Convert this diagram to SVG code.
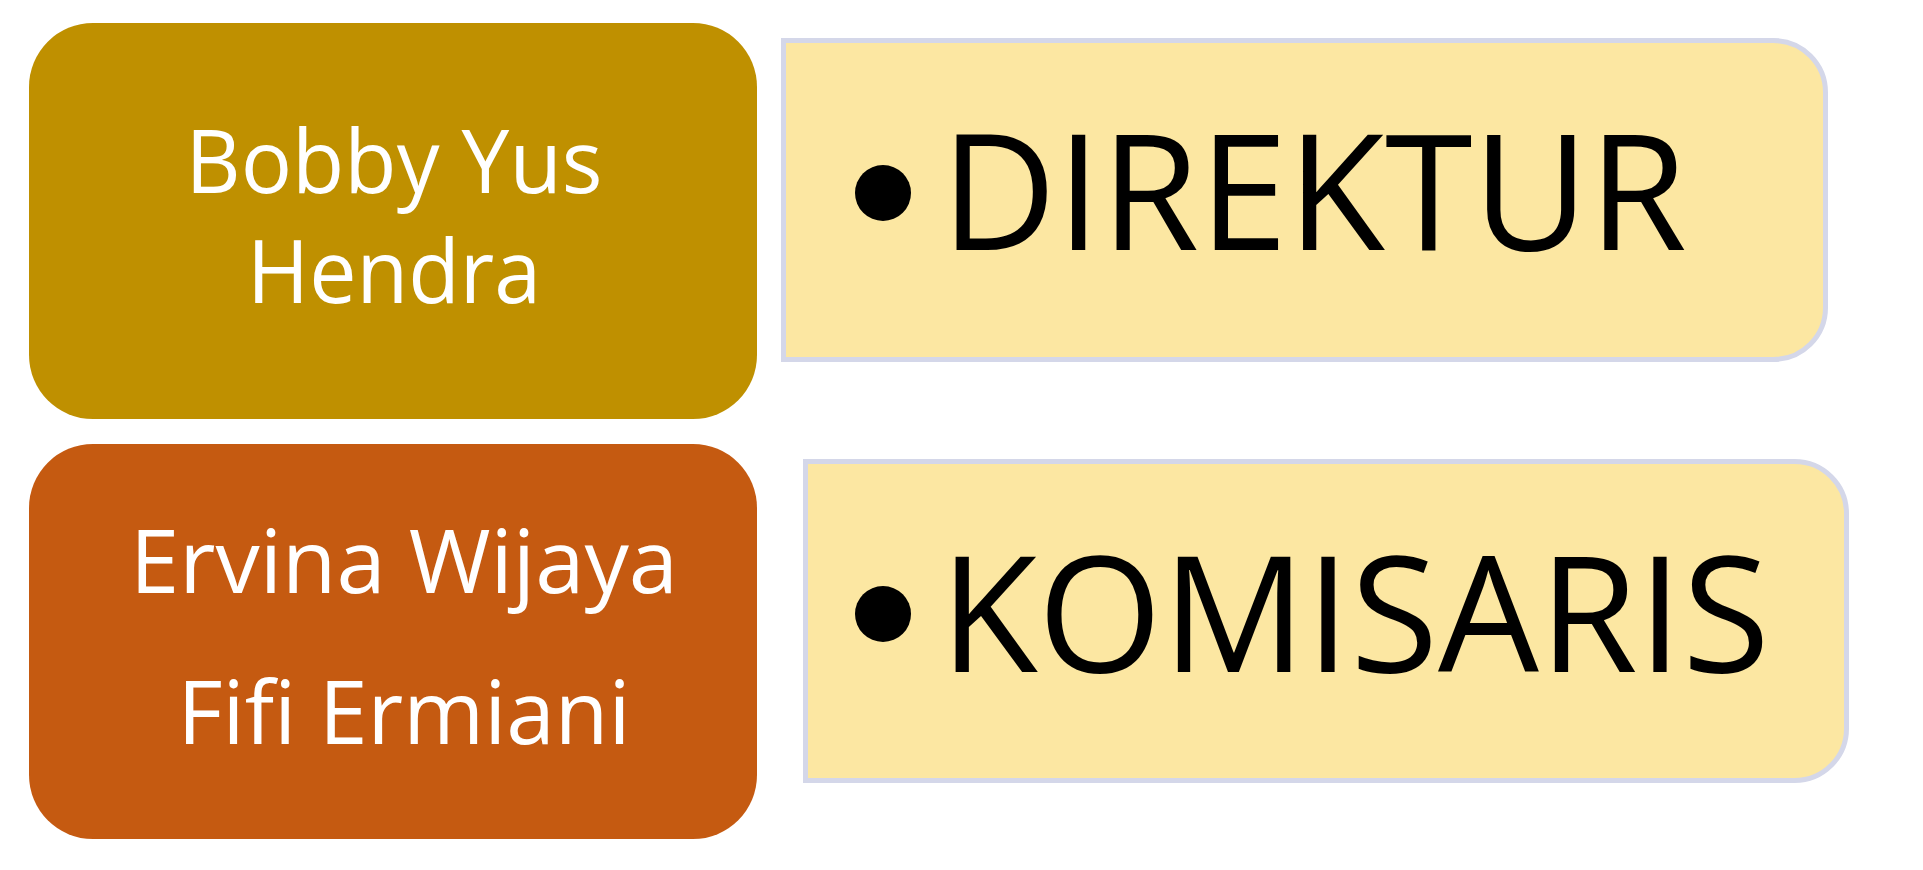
<svg xmlns="http://www.w3.org/2000/svg" width="1923" height="870" viewBox="0 0 1923 870">
<style>
.name{font-family:"Open Sans","Liberation Sans",sans-serif;font-size:88px;fill:#FFFFFF;text-anchor:middle}
.title{font-family:"Open Sans","Liberation Sans",sans-serif;font-size:161px;fill:#000000}
.panel{fill:#FCE7A2;stroke:#D4D7E9;stroke-width:5}
.bullet{fill:#000000}
</style>
<rect width="1923" height="870" fill="#FFFFFF"/>
<g id="node-direktur-names">
<rect x="29" y="23" width="728" height="396" rx="64" ry="64" fill="#BF9000"/>
<text class="name" x="394" y="193" textLength="417" lengthAdjust="spacingAndGlyphs">Bobby Yus</text>
<text class="name" x="394" y="303" textLength="294" lengthAdjust="spacingAndGlyphs">Hendra</text>
</g>
<g id="node-direktur">
<path class="panel" d="M783.5 40.5 H1773.5 A52 52 0 0 1 1825.5 92.5 V307.5 A52 52 0 0 1 1773.5 359.5 H783.5 Z"/>
<circle class="bullet" cx="883" cy="193" r="28"/>
<text class="title" x="941" y="250" textLength="746" lengthAdjust="spacingAndGlyphs">DIREKTUR</text>
</g>
<g id="node-komisaris-names">
<rect x="29" y="444" width="728" height="395" rx="64" ry="64" fill="#C55A11"/>
<text class="name" x="404" y="593" textLength="548" lengthAdjust="spacingAndGlyphs">Ervina Wijaya</text>
<text class="name" x="404" y="744" textLength="453" lengthAdjust="spacingAndGlyphs">Fifi Ermiani</text>
</g>
<g id="node-komisaris">
<path class="panel" d="M805.5 461.5 H1794.5 A52 52 0 0 1 1846.5 513.5 V728.5 A52 52 0 0 1 1794.5 780.5 H805.5 Z"/>
<circle class="bullet" cx="883" cy="614" r="28"/>
<text class="title" x="940" y="672" textLength="830" lengthAdjust="spacingAndGlyphs">KOMISARIS</text>
</g>
<g id="connectors"></g>
</svg>
